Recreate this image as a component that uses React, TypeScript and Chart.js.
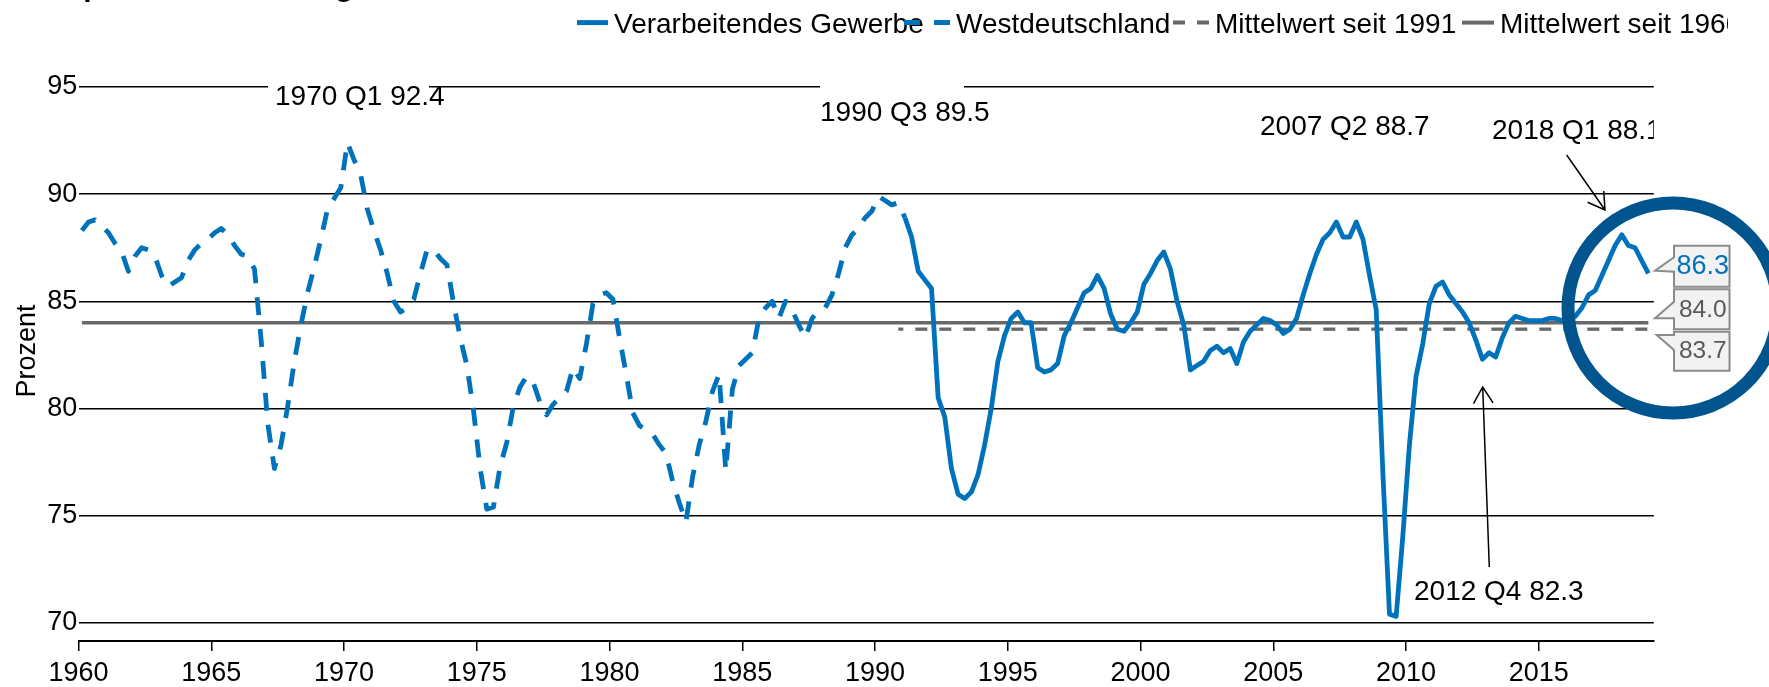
import React, { useEffect, useRef } from "react";
import { Chart, registerables } from "chart.js";

Chart.register(...registerables);

const FONT = '"Liberation Sans", Arial, sans-serif';
const BLUE = "#0072BC";
const DARK_BLUE = "#00558E";
const GREY = "#686868";

// Quarterly data. Quarter index 0 = 1960 Q1.
const startYear = 1960;

// Westdeutschland, 1960 Q1 .. 1991 Q1
const westdeutschlandStart = 0;
const westdeutschland: number[] = [
  88.3, 88.7, 88.8, 88.5, 88.2, 87.7, 87.3, 86.4, 87.1, 87.5,
  87.4, 87.1, 86.2, 85.7, 85.9, 86.1, 86.9, 87.4, 87.7, 87.9,
  88.2, 88.4, 88.1, 87.6, 87.2, 87.1, 86.5, 83.2, 79.3, 77.2,
  78.3, 80.1, 82.2, 83.9, 85.4, 86.6, 87.9, 89.3, 89.8, 90.3,
  92.4, 91.6, 90.9, 89.3, 88.3, 87.4, 86.3, 85.0, 84.5, 84.7,
  85.1, 86.3, 87.4, 87.4, 87.0, 86.7, 84.9, 83.3, 82.0, 79.9,
  77.2, 75.3, 75.4, 77.3, 78.4, 80.1, 81.0, 81.5, 81.2, 80.3,
  79.7, 80.2, 80.5, 80.8, 81.9, 81.4, 83.0, 84.9, 85.3, 85.4,
  85.1, 83.3, 81.6, 79.8, 79.2, 79.0, 78.8, 78.3, 77.9, 76.6,
  75.6, 74.7, 76.8, 78.3, 79.4, 80.8, 81.6, 77.1, 80.9, 82.0,
  82.3, 82.6, 84.2, 84.7, 85.0, 84.2, 85.0, 84.6, 83.9, 83.3,
  84.2, 84.6, 84.7, 85.3, 86.3, 87.5, 88.1, 88.4, 88.9, 89.2,
  89.9, 89.7, 89.5, 89.6, 88.9,
];

// Verarbeitendes Gewerbe (Deutschland), 1991 Q1 .. 2019 Q1
const gewerbeStart = 124;
const verarbeitendesGewerbe: number[] = [
  88.9, 88.0, 86.4, 86.0, 85.6, 80.5, 79.6, 77.2, 76.0, 75.8,
  76.1, 76.9, 78.3, 80.0, 82.2, 83.4, 84.2, 84.5, 84.0, 84.0,
  81.9, 81.7, 81.8, 82.1, 83.4, 84.0, 84.7, 85.4, 85.6, 86.2,
  85.6, 84.4, 83.7, 83.6, 84.0, 84.5, 85.8, 86.3, 86.9, 87.3,
  86.5, 85.0, 83.9, 81.8, 82.0, 82.2, 82.7, 82.9, 82.6, 82.8,
  82.1, 83.1, 83.6, 83.9, 84.2, 84.1, 83.9, 83.5, 83.7, 84.2,
  85.3, 86.3, 87.2, 87.9, 88.2, 88.7, 88.0, 88.0, 88.7, 87.9,
  86.2, 84.6, 77.0, 70.4, 70.3, 74.0, 78.3, 81.5, 83.0, 84.9,
  85.7, 85.9, 85.3, 84.9, 84.5, 84.0, 83.2, 82.3, 82.6, 82.4,
  83.3, 84.0, 84.3, 84.2, 84.1, 84.1, 84.1, 84.2, 84.2, 84.1,
  84.1, 84.3, 84.7, 85.3, 85.5, 86.2, 86.9, 87.6, 88.1, 87.6,
  87.5, 86.9, 86.3,
];

const mittelwertSeit1960 = 84.0;
const mittelwertSeit1991 = 83.7;
const mittelwert1960From = 0;
const mittelwert1991From = 123;

const yTickValues = [70, 75, 80, 85, 90, 95];
const xTickValues = [1960, 1965, 1970, 1975, 1980, 1985, 1990, 1995, 2000, 2005, 2010, 2015];

const legendLabels = [
  "Verarbeitendes Gewerbe",
  "Westdeutschland",
  "Mittelwert seit 1991",
  "Mittelwert seit 1960",
];

const titleText = "Kapazitätsauslastung";
const yAxisTitle = "Prozent";
const noteTexts = ["1970 Q1 92.4", "1990 Q3 89.5", "2007 Q2 88.7", "2018 Q1 88.1", "2012 Q4 82.3"];

function quarterPos(i: number): number {
  return startYear + i / 4 + 0.125;
}

function toPoints(values: number[], start: number) {
  return values.map((v, k) => ({ x: quarterPos(start + k), y: v }));
}

const lastIndex = gewerbeStart + verarbeitendesGewerbe.length - 1;

function drawArrow(ctx: CanvasRenderingContext2D, x0: number, y0: number, x1: number, y1: number) {
  const ang = Math.atan2(y1 - y0, x1 - x0);
  const len = 19;
  const half = (31 * Math.PI) / 180;
  ctx.beginPath();
  ctx.moveTo(x0, y0);
  ctx.lineTo(x1, y1);
  ctx.moveTo(x1 - len * Math.cos(ang - half), y1 - len * Math.sin(ang - half));
  ctx.lineTo(x1, y1);
  ctx.lineTo(x1 - len * Math.cos(ang + half), y1 - len * Math.sin(ang + half));
  ctx.strokeStyle = "#000";
  ctx.lineWidth = 1.5;
  ctx.stroke();
}

function drawCallout(
  ctx: CanvasRenderingContext2D,
  left: number, right: number, top: number, bottom: number,
  p1y: number, tipx: number, tipy: number, p2y: number,
  text: string, color: string, size: number, baseline: number
) {
  ctx.beginPath();
  ctx.moveTo(left, top);
  ctx.lineTo(right, top);
  ctx.lineTo(right, bottom);
  ctx.lineTo(left, bottom);
  ctx.lineTo(left, p2y);
  ctx.lineTo(tipx, tipy);
  ctx.lineTo(left, p1y);
  ctx.closePath();
  ctx.fillStyle = "#f2f2f2";
  ctx.fill();
  ctx.strokeStyle = "#8a8a8a";
  ctx.lineWidth = 2;
  ctx.stroke();
  ctx.fillStyle = color;
  ctx.font = `${size}px ${FONT}`;
  ctx.textAlign = "center";
  ctx.textBaseline = "alphabetic";
  ctx.fillText(text, (left + right) / 2 + 1, baseline);
}

const decorations = {
  id: "decorations",
  afterDraw(chart: any) {
    const ctx: CanvasRenderingContext2D = chart.ctx;
    ctx.save();

    // white label backgrounds covering the top grid line
    ctx.fillStyle = "#fff";
    ctx.fillRect(268, 80, 161, 30);
    ctx.fillRect(820, 80, 144, 46);

    ctx.fillStyle = "#000";
    ctx.font = `28px ${FONT}`;
    ctx.textAlign = "left";
    ctx.textBaseline = "alphabetic";
    ctx.fillText(noteTexts[0], 275, 105);
    ctx.fillText(noteTexts[1], 820, 121);
    ctx.fillText(noteTexts[2], 1260, 135);
    ctx.fillText(noteTexts[4], 1414, 600);
    ctx.save();
    ctx.beginPath();
    ctx.rect(0, 0, chart.chartArea.right, 687);
    ctx.clip();
    ctx.fillText(noteTexts[3], 1492, 139);
    ctx.restore();

    drawArrow(ctx, 1566.7, 155, 1605, 210);
    drawArrow(ctx, 1489.3, 567, 1482.7, 387);

    // highlight circle
    ctx.beginPath();
    ctx.arc(1673, 308, 105, 0, Math.PI * 2);
    ctx.lineWidth = 13;
    ctx.strokeStyle = DARK_BLUE;
    ctx.stroke();

    // value callouts
    const lastVal = verarbeitendesGewerbe[verarbeitendesGewerbe.length - 1];
    drawCallout(ctx, 1674, 1729.5, 245.7, 286.7, 257.3, 1655, 270.7, 271.7, lastVal.toFixed(1), BLUE, 27, 274);
    drawCallout(ctx, 1674, 1729.5, 289.3, 329.3, 301.7, 1655, 318.3, 318.3, mittelwertSeit1960.toFixed(1), "#595959", 24.5, 317);
    drawCallout(ctx, 1674, 1729.5, 331.7, 370.7, 335, 1656.7, 335, 350, mittelwertSeit1991.toFixed(1), "#595959", 24.5, 358);

    // legend
    ctx.save();
    ctx.beginPath();
    ctx.rect(0, 0, 1728, 60);
    ctx.clip();
    const ly = 22.6;
    const lb = 32.5;
    const seg = (x0: number, x1: number, color: string, w: number, dash: number[]) => {
      ctx.beginPath();
      ctx.setLineDash(dash);
      ctx.moveTo(x0, ly);
      ctx.lineTo(x1, ly);
      ctx.strokeStyle = color;
      ctx.lineWidth = w;
      ctx.lineCap = "butt";
      ctx.stroke();
      ctx.setLineDash([]);
    };
    ctx.font = `28px ${FONT}`;
    ctx.textAlign = "left";
    ctx.textBaseline = "alphabetic";
    ctx.fillStyle = "#000";
    seg(577, 608, BLUE, 5, []);
    ctx.fillText(legendLabels[0], 614, lb);
    seg(904, 950, BLUE, 5, [16, 14]);
    ctx.fillText(legendLabels[1], 956, lb);
    seg(1173, 1209, GREY, 4, [12, 12]);
    ctx.fillText(legendLabels[2], 1215, lb);
    seg(1462, 1494, GREY, 4, []);
    ctx.fillText(legendLabels[3], 1500, lb);
    ctx.restore();

    // clipped title at the very top (only descenders remain visible)
    ctx.font = `bold 30px ${FONT}`;
    ctx.fillStyle = "#000";
    ctx.textAlign = "left";
    ctx.textBaseline = "alphabetic";
    ctx.fillText(titleText, 45, -4);

    // y-axis title
    ctx.save();
    ctx.translate(35, 351);
    ctx.rotate(-Math.PI / 2);
    ctx.font = `27px ${FONT}`;
    ctx.textAlign = "center";
    ctx.textBaseline = "alphabetic";
    ctx.fillText(yAxisTitle, 0, 0);
    ctx.restore();

    ctx.restore();
  },
};

export default function App() {
  const canvasRef = useRef<HTMLCanvasElement | null>(null);

  useEffect(() => {
    if (!canvasRef.current) return;
    const chart = new Chart(canvasRef.current, {
      type: "line",
      data: {
        datasets: [
          {
            label: legendLabels[0],
            data: toPoints(verarbeitendesGewerbe, gewerbeStart),
            borderColor: BLUE,
            borderWidth: 4.8,
            pointRadius: 0,
            tension: 0,
            borderJoinStyle: "round",
          },
          {
            label: legendLabels[1],
            data: toPoints(westdeutschland, westdeutschlandStart),
            borderColor: BLUE,
            borderWidth: 4.8,
            borderDash: [18, 14],
            pointRadius: 0,
            tension: 0,
            borderJoinStyle: "round",
          },
          {
            label: legendLabels[2],
            data: [
              { x: quarterPos(mittelwert1991From), y: mittelwertSeit1991 },
              { x: quarterPos(lastIndex), y: mittelwertSeit1991 },
            ],
            borderColor: GREY,
            borderWidth: 3.3,
            borderDash: [12, 12],
            borderDashOffset: 7,
            pointRadius: 0,
          },
          {
            label: legendLabels[3],
            data: [
              { x: quarterPos(mittelwert1960From), y: mittelwertSeit1960 },
              { x: quarterPos(lastIndex), y: mittelwertSeit1960 },
            ],
            borderColor: GREY,
            borderWidth: 3.6,
            pointRadius: 0,
          },
        ],
      },
      options: {
        responsive: false,
        animation: false,
        devicePixelRatio: 1,
        layout: { padding: { left: 0, right: 115.2, top: 22.7, bottom: 0 } },
        plugins: {
          legend: { display: false },
          tooltip: { enabled: false },
          title: { display: false },
        },
        scales: {
          x: {
            type: "linear",
            min: 1960,
            max: 2019.33,
            afterBuildTicks: (s: any) => {
              s.ticks = xTickValues.map((v) => ({ value: v }));
            },
            afterFit: (s: any) => {
              s.height = 46;
            },
            grid: {
              drawOnChartArea: false,
              drawTicks: true,
              tickLength: 10,
              color: "#000",
              lineWidth: 1.5,
            },
            border: { display: true, color: "#000", width: 2 },
            ticks: {
              font: { family: FONT, size: 27 },
              color: "#000",
              padding: 6,
              maxRotation: 0,
              autoSkip: false,
              callback: (v: any) => String(v),
            },
          },
          y: {
            type: "linear",
            min: 69.15,
            max: 98,
            afterBuildTicks: (s: any) => {
              s.ticks = yTickValues.map((v) => ({ value: v }));
            },
            afterFit: (s: any) => {
              s.width = 78.6;
            },
            grid: { drawTicks: false, color: "#000", lineWidth: 1.6 },
            border: { display: false },
            ticks: {
              font: { family: FONT, size: 27 },
              color: "#000",
              padding: 1.3,
              callback: (v: any) => String(v),
            },
          },
        },
      },
      plugins: [decorations],
    } as any);
    return () => chart.destroy();
  }, []);

  return (
    <div style={{ position: "absolute", left: 0, top: 0, width: 1769, height: 687, background: "#fff" }}>
      <canvas ref={canvasRef} width={1769} height={687} style={{ display: "block" }} />
    </div>
  );
}
